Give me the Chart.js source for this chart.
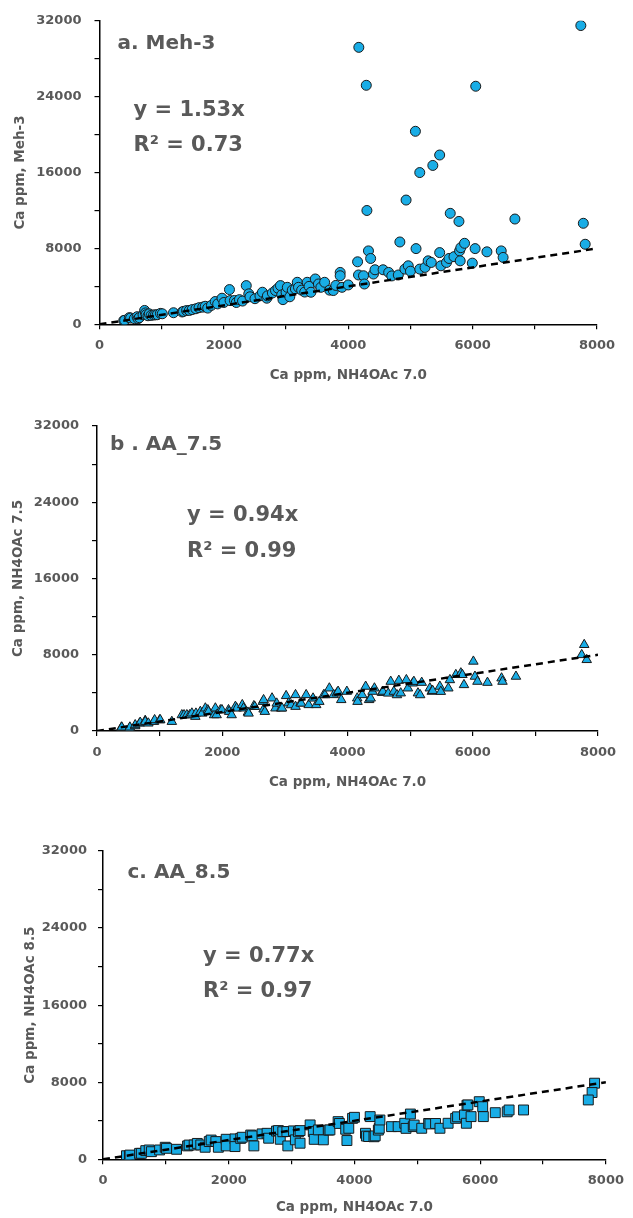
<!DOCTYPE html>
<html>
<head>
<meta charset="utf-8">
<script src="https://cdn.jsdelivr.net/npm/chart.js@4.4.0/dist/chart.umd.min.js"></script>
<style>
  body { margin: 0; background: #fff; width: 633px; height: 1218px; overflow: hidden; }
  canvas { position: absolute; left: 0; }
</style>
</head>
<body>
<canvas id="chartA" width="633" height="400" style="top:0px"></canvas>
<canvas id="chartB" width="633" height="410" style="top:400px"></canvas>
<canvas id="chartC" width="633" height="408" style="top:810px"></canvas>
<script>
// Ca ppm, NH4OAc 7.0 (x) vs Meh-3 (y)
const mehX = [390, 405, 480, 500, 560, 605, 620, 640, 700, 725, 740, 750, 780, 800, 830, 870, 900, 930, 980, 1010,
  1190, 1330, 1350, 1400, 1445, 1490, 1550, 1600, 1660, 1700, 1740, 1800, 1860, 1900, 1970, 2000, 2090, 2100, 2170, 2200,
  2250, 2300, 2360, 2400, 2420, 2500, 2580, 2620, 2690, 2700, 2780, 2830, 2870, 2910, 2930, 2950, 3000, 3020, 3060, 3100,
  3150, 3180, 3200, 3250, 3300, 3340, 3370, 3400, 3470, 3520, 3560, 3620, 3700, 3760, 3800, 3870, 3870, 3900, 4000,
  4150, 4165, 4245, 4260, 4325, 4360, 4405, 4430, 4560, 4650, 4700, 4805, 4830, 4910, 4965, 5000, 5090, 5150, 5235, 5285,
  5335, 5470, 5490, 5580, 5620, 5700, 5790, 5810, 5870, 5800, 5995, 6040, 6230, 6460, 6490, 7810,
  4170, 4290, 6050, 7740, 5080, 5470, 5360, 5150, 4930, 4300, 5640, 5780, 6680, 7780];
const mehY = [400, 420, 700, 660, 600, 800, 590, 700, 1000, 1460, 1200, 1010, 900, 1100, 940, 980, 1000, 1010, 1150, 1110,
  1220, 1300, 1360, 1450, 1460, 1550, 1640, 1750, 1810, 1900, 1710, 2000, 2400, 2150, 2750, 2300, 3660, 2500, 2510, 2300,
  2600, 2450, 4080, 3210, 2900, 2700, 3000, 3380, 2750, 3000, 3300, 3560, 3800, 4080, 3100, 2600, 3380, 3900, 2900, 3600,
  3730, 4430, 3900, 3600, 3400, 4430, 4000, 3380, 4780, 4250, 3900, 4430, 3600, 3560, 4100, 5470, 5120, 3900, 4150,
  6590, 5200, 5120, 4250, 7740, 6940, 5300, 5750, 5750, 5470, 5100, 5200, 8680, 5820, 6170, 5600, 7980, 5820, 6000, 6690,
  6520, 7560, 6170, 6520, 6940, 7130, 7740, 8080, 8540, 6690, 6450, 7980, 7640, 7740, 7050, 8440,
  29200, 25200, 25100, 31500, 20350, 17850, 16750, 16000, 13100, 12000, 11700, 10850, 11100, 10650];

// Ca ppm, NH4OAc 7.0 (x) vs NH4OAc 7.5 (y)
const aa75X = [390, 395, 520, 525, 610, 610, 680, 690, 770, 770, 820, 910, 920, 1000, 1010, 1195, 1355, 1390, 1435, 1480,
  1515, 1570, 1580, 1650, 1680, 1730, 1770, 1780, 1870, 1890, 1910, 1970, 1995, 2100, 2110, 2150, 2210, 2230, 2320, 2340,
  2410, 2420, 2505, 2520, 2650, 2660, 2660, 2680, 2795, 2850, 2870, 2940, 2955, 3020, 3060, 3100, 3170, 3170, 3250, 3260,
  3340, 3380, 3450, 3500, 3550, 3620, 3640, 3710, 3780, 3830, 3850, 3900, 3990, 4155, 4160, 4235, 4290, 4345, 4370, 4400,
  4430, 4550, 4565, 4650, 4690, 4740, 4790, 4820, 4850, 4940, 4965, 5040, 5060, 5125, 5160, 5185, 5315, 5345, 5360, 5475,
  5490, 5610, 5635, 5730, 5810, 5835, 5860, 6010, 6035, 6075, 6235, 6460, 6475, 6690, 7780, 7740, 7820];
const aa75Y = [380, 390, 280, 390, 520, 630, 800, 890, 1090, 980, 810, 980, 1160, 1150, 1160, 980, 1680, 1680, 1680, 1680,
  1860, 1510, 1850, 2030, 1850, 2390, 2200, 2030, 1680, 2390, 1680, 2200, 2210, 2210, 2030, 1680, 2560, 2380, 2740, 2390,
  1950, 1850, 2630, 2550, 3080, 3260, 2280, 2030, 3440, 2390, 2900, 2380, 2390, 3690, 2920, 2730, 3790, 2560, 2920, 2900,
  3790, 2740, 3430, 2740, 3080, 3790, 3780, 4490, 3790, 3970, 4140, 3270, 4140, 3440, 3080, 3790, 4670, 3270, 3430, 4140,
  4490, 4020, 4140, 3950, 5190, 4140, 3780, 5290, 3970, 5360, 4490, 5010, 5180, 3970, 3780, 5080, 4490, 4140, 4230, 4670,
  4130, 4490, 5360, 5900, 6070, 5900, 4840, 7300, 5720, 5190, 5080, 5540, 5190, 5720, 9050, 7990, 7470];

// Ca ppm, NH4OAc 7.0 (x) vs NH4OAc 8.5 (y)
const aa85X = [373, 420, 430, 582, 610, 680, 735, 770, 900, 990, 1010, 1170, 1345, 1370, 1450, 1500, 1555, 1625, 1690, 1720,
  1795, 1835, 1960, 1960, 2100, 2100, 2190, 2215, 2350, 2375, 2400, 2530, 2610, 2635, 2760, 2790, 2820, 2860, 2925, 2940,
  3030, 3060, 3110, 3135, 3135, 3295, 3345, 3360, 3425, 3505, 3590, 3610, 3740, 3760, 3860, 3880, 3910, 3970, 4000, 4175,
  4190, 4225, 4250, 4310, 4330, 4380, 4395, 4405, 4590, 4695, 4800, 4820, 4890, 4935, 4950, 5070, 5180, 5200, 5290, 5360,
  5490, 5610, 5640, 5750, 5780, 5790, 5805, 5855, 5985, 6040, 6050, 6240, 6430, 6460, 6690, 7820, 7780, 7720];
const aa85Y = [370, 380, 440, 620, 620, 900, 970, 790, 970, 1250, 1140, 1040, 1390, 1480, 1490, 1650, 1490, 1250, 1840, 2000,
  1840, 1250, 2080, 1390, 2120, 1320, 2170, 2290, 2520, 2430, 1390, 2640, 2700, 2190, 2930, 2980, 2080, 2860, 2880, 1390,
  2950, 2020, 2860, 2980, 1670, 3570, 2880, 2070, 3050, 2020, 3030, 3050, 3910, 3720, 3120, 1950, 3220, 4250, 4360, 2700,
  2410, 2360, 4430, 2340, 2430, 3030, 3220, 4080, 3390, 3390, 3740, 3210, 4700, 3390, 3550, 3220, 3720, 3670, 3720, 3220,
  3740, 4250, 4410, 4600, 3740, 5620, 5640, 4430, 5980, 5460, 4430, 4840, 4930, 5120, 5120, 7900, 6930, 6160];

// 1:1 reference line end points
const refLineX = [0, 8000];
const refLineY = [0, 8000];

const xMin = 0, xMax = 8000, xStep = 1000, xLabelStep = 2000;
const yMin = 0, yMax = 32000, yStep = 4000, yLabelStep = 8000;

const grey = '#595959';
const font = '"DejaVu Sans", sans-serif';

const notesPlugin = {
  id: 'notes',
  afterDatasetsDraw(chart, args, opts) {
    const ctx = chart.ctx;
    const area = chart.chartArea;
    ctx.save();
    ctx.fillStyle = grey;
    ctx.textBaseline = 'alphabetic';
    ctx.textAlign = 'left';
    opts.items.forEach(it => {
      ctx.font = 'bold ' + it.size + 'px ' + font;
      ctx.fillText(it.text, area.left + it.dx, area.top + it.dy);
    });
    ctx.restore();
  }
};

function zip(xs, ys) {
  return xs.map((x, i) => ({ x: x, y: ys[i] }));
}

function makePanel(id, p) {
  const ctx = document.getElementById(id).getContext('2d');
  return new Chart(ctx, {
    type: 'scatter',
    data: {
      datasets: [
        {
          data: zip(p.xs, p.ys),
          pointStyle: p.style,
          pointRadius: p.radius,
          backgroundColor: '#19ADE6',
          borderColor: '#1a1a1a',
          borderWidth: 1,
          order: 1
        },
        {
          data: zip(refLineX, refLineY),
          showLine: true,
          borderColor: '#000',
          borderWidth: 2.5,
          borderDash: [7, 5],
          pointRadius: 0,
          order: 0
        }
      ]
    },
    options: {
      responsive: false,
      animation: false,
      devicePixelRatio: 1,
      layout: { padding: { top: p.top, right: 633 - p.right, left: 0, bottom: 0 } },
      plugins: {
        legend: { display: false },
        tooltip: { enabled: false },
        notes: { items: p.notes }
      },
      scales: {
        x: {
          type: 'linear',
          min: xMin, max: xMax,
          afterFit: s => { s.height = p.height - p.bottom; },
          border: { color: '#000', width: 1.5 },
          grid: { drawOnChartArea: false, color: '#000', tickLength: 5, lineWidth: 1.2 },
          ticks: {
            stepSize: xStep, padding: 9, color: grey, maxRotation: 0, autoSkip: false,
            font: { family: font, size: 13, weight: 'bold' },
            callback: v => (v % xLabelStep === 0 ? String(v) : '')
          },
          title: {
            display: true, text: 'Ca ppm, NH4OAc 7.0', color: grey,
            font: { family: font, size: 13.5, weight: 'bold' },
            padding: { top: 0, bottom: p.xTitlePad }
          }
        },
        y: {
          type: 'linear',
          min: yMin, max: yMax,
          afterFit: s => { s.width = p.left; },
          border: { color: '#000', width: 1.5 },
          grid: { drawOnChartArea: false, color: '#000', tickLength: 5, lineWidth: 1.2 },
          ticks: {
            stepSize: yStep, padding: p.yTickPad, color: grey, autoSkip: false,
            font: { family: font, size: 13, weight: 'bold' },
            callback: v => (v % yLabelStep === 0 ? String(v) : '')
          },
          title: {
            display: true, text: p.yTitle, color: grey,
            font: { family: font, size: 13.5, weight: 'bold' },
            padding: { top: p.yTitlePad, bottom: 0 }
          }
        }
      }
    },
    plugins: [notesPlugin]
  });
}

makePanel('chartA', {
  xs: mehX, ys: mehY, style: 'circle', radius: 5,
  height: 400, top: 18, bottom: 324.3, left: 99.5, right: 597,
  xTitlePad: 16, yTitlePad: 12, yTickPad: 13,
  yTitle: 'Ca ppm, Meh-3',
  notes: [
    { text: 'a. Meh-3', size: 20, dx: 18, dy: 28 },
    { text: 'y = 1.53x', size: 21, dx: 34, dy: 95 },
    { text: 'R\u00b2 = 0.73', size: 21, dx: 34, dy: 130 }
  ]
});

makePanel('chartB', {
  xs: aa75X, ys: aa75Y, style: 'triangle', radius: 5.5,
  height: 410, top: 26, bottom: 331, left: 97, right: 598,
  xTitlePad: 19, yTitlePad: 10, yTickPad: 13,
  yTitle: 'Ca ppm, NH4OAc 7.5',
  notes: [
    { text: 'b . AA_7.5', size: 20, dx: 13, dy: 24 },
    { text: 'y = 0.94x', size: 21, dx: 90, dy: 95 },
    { text: 'R\u00b2 = 0.99', size: 21, dx: 90, dy: 131 }
  ]
});

makePanel('chartC', {
  xs: aa85X, ys: aa85Y, style: 'rect', radius: 7,
  height: 408, top: 41, bottom: 349.3, left: 103, right: 611.7,
  xTitlePad: 2, yTitlePad: 22, yTickPad: 11,
  yTitle: 'Ca ppm, NH4OAc 8.5',
  notes: [
    { text: 'c. AA_8.5', size: 20, dx: 24.5, dy: 27 },
    { text: 'y = 0.77x', size: 21, dx: 100, dy: 111 },
    { text: 'R\u00b2 = 0.97', size: 21, dx: 100, dy: 146 }
  ]
});
</script>
</body>
</html>
